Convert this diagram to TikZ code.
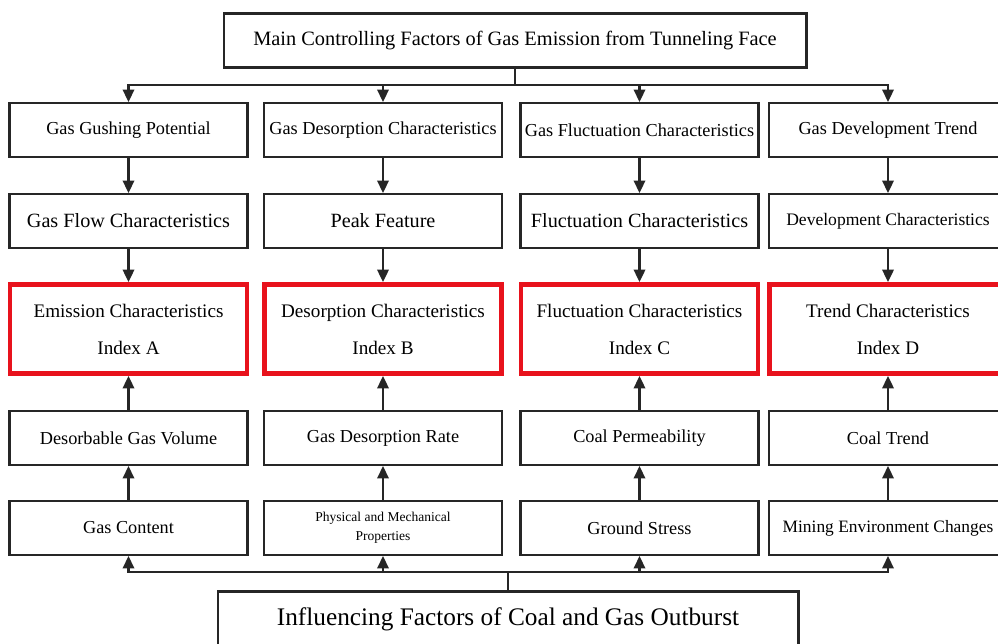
\documentclass[tikz,border=0pt]{standalone}
\usepackage{fontspec}
\setmainfont{Liberation Serif}
\usetikzlibrary{arrows.meta}
\definecolor{idxred}{RGB}{232,18,28}

\begin{document}
\begin{tikzpicture}[x=0.02cm,y=-0.02cm,
    box/.style={draw=black!85,line width=1.2pt,minimum width=4.76cm,minimum height=1.08cm,inner sep=1pt,font=\fontsize{10.4}{12}\selectfont},
    bigbox/.style={box,font=\fontsize{11.5}{13}\selectfont},
    smallbox/.style={box,align=center,font=\fontsize{7.7}{10.6}\selectfont},
    idxbox/.style={draw=idxred,line width=2.6pt,minimum width=4.74cm,minimum height=1.79cm,align=center,font=\fontsize{10.9}{21}\selectfont},
    link/.style={draw=black!85,line width=1.2pt},
    arr/.style={link,-{Triangle[width=6.5pt,length=7pt]}}]
      \useasboundingbox (0,0) rectangle (998,643);
      \clip (0,0) rectangle (998,643);
      %
      \node[box,minimum width=11.66cm,font=\fontsize{11.6}{14}\selectfont] (mainctrl) at (515,40.5) {Main Controlling Factors of Gas Emission from Tunneling Face};
      \coordinate (topbus) at (515,85);
      %
      \node[box] (gushing) at (128.5,130) {Gas Gushing Potential};
      \node[box] (desorpchar) at (383,130) {Gas Desorption Characteristics};
      \node[box] (fluctchar) at (639.5,130) {Gas Fluctuation Characteristics};
      \node[box] (develtrend) at (888,130) {Gas Development Trend};
      %
      \node[bigbox] (gasflow) at (128.5,221) {Gas Flow Characteristics};
      \node[bigbox] (peak) at (383,221) {Peak Feature};
      \node[bigbox] (fluctuation) at (639.5,221) {Fluctuation Characteristics};
      \node[box,font=\fontsize{10}{12}\selectfont] (development) at (888,221) {Development Characteristics};
      %
      \node[idxbox] (indexA) at (128.5,329) {Emission Characteristics\\Index A};
      \node[idxbox] (indexB) at (383,329) {Desorption Characteristics\\Index B};
      \node[idxbox] (indexC) at (639.5,329) {Fluctuation Characteristics\\Index C};
      \node[idxbox] (indexD) at (888,329) {Trend Characteristics\\Index D};
      %
      \node[box] (desorbable) at (128.5,438) {Desorbable Gas Volume};
      \node[box] (desorprate) at (383,438) {Gas Desorption Rate};
      \node[box] (permeab) at (639.5,438) {Coal Permeability};
      \node[box] (coaltrend) at (888,438) {Coal Trend};
      %
      \node[box] (gascontent) at (128.5,528) {Gas Content};
      \node[smallbox] (physmech) at (383,528) {Physical and Mechanical\\Properties};
      \node[box] (groundstress) at (639.5,528) {Ground Stress};
      \node[box,font=\fontsize{9.9}{12}\selectfont] (miningenv) at (888,528) {Mining Environment Changes};
      %
      \coordinate (botbus) at (508,572);
      \node[box,minimum width=11.62cm,minimum height=1.1cm,font=\fontsize{14.4}{17}\selectfont] (outburst) at (508,619) {Influencing Factors of Coal and Gas Outburst};
      %
      \draw[link] (mainctrl.south) -- (topbus);
      \foreach \n in {gushing,desorpchar,fluctchar,develtrend}
        \draw[arr] (topbus) -| (\n);
      \draw[arr] (gushing) -- (gasflow);
      \draw[arr] (desorpchar) -- (peak);
      \draw[arr] (fluctchar) -- (fluctuation);
      \draw[arr] (develtrend) -- (development);
      \draw[arr] (gasflow) -- (indexA);
      \draw[arr] (peak) -- (indexB);
      \draw[arr] (fluctuation) -- (indexC);
      \draw[arr] (development) -- (indexD);
      %
      \draw[arr] (desorbable) -- (indexA);
      \draw[arr] (desorprate) -- (indexB);
      \draw[arr] (permeab) -- (indexC);
      \draw[arr] (coaltrend) -- (indexD);
      \draw[arr] (gascontent) -- (desorbable);
      \draw[arr] (physmech) -- (desorprate);
      \draw[arr] (groundstress) -- (permeab);
      \draw[arr] (miningenv) -- (coaltrend);
      \draw[link] (outburst.north) -- (botbus);
      \foreach \n in {gascontent,physmech,groundstress,miningenv}
        \draw[arr] (botbus) -| (\n);
    \end{tikzpicture}
\end{document}
